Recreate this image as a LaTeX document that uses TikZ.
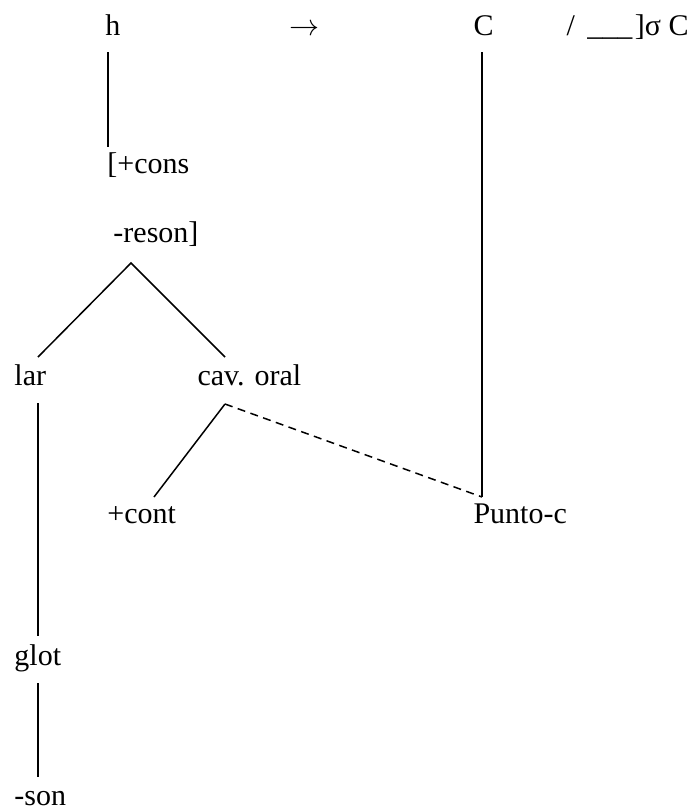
\documentclass[tikz,border=0pt]{standalone}
\usepackage{fontspec}
\setmainfont{Liberation Serif}
\usepackage{tikz}

\begin{document}
\begin{tikzpicture}[x=.4pt,y=-.4pt,
  feat/.style={anchor=base west,inner sep=0pt,font=\fontsize{12}{14}\selectfont},
  assoc/.style={line width=.6pt},
  delink/.style={line width=.6pt,dash pattern=on 3.2pt off 2.2pt}]
  \useasboundingbox (0,0) rectangle (698,808);

  \node[feat] at(105,35)(h){h};
  \node[feat] at(289,35)(arrow){$\rightarrow$};
  \node[feat] at(473,35)(C){C};
  \node[feat] at(566,35)(env){/\hspace{5pt}\_\_\_\hspace{1pt}]σ C};

  \node[feat] at(107,173)(cons){[+cons};
  \node[feat] at(113,242)(reson){-reson]};

  \node[feat] at(14,385)(lar){lar};
  \node[feat] at(197,385)(cav){cav. oral};

  \node[feat] at(107,523)(cont){+cont};
  \node[feat] at(473,523)(punto){Punto-c};

  \node[feat] at(14,665)(glot){glot};
  \node[feat] at(14,805)(son){-son};

  \draw [assoc]([shift={(3,17)}]h.base west) -- ([shift={(1,-26)}]cons.base west);
  \draw [assoc]([shift={(9,17)}]C.base west) -- ([shift={(9,-26)}]punto.base west);

  \draw [assoc]([shift={(24,-28)}]lar.base west) -- ([shift={(18,21)}]reson.base west)
    -- ([shift={(28,-28)}]cav.base west);

  \draw [assoc]([shift={(24,18)}]lar.base west) -- ([shift={(24,-29)}]glot.base west);
  \draw [assoc]([shift={(24,18)}]glot.base west) -- ([shift={(24,-28)}]son.base west);

  \draw [assoc]([shift={(28,19)}]cav.base west) -- ([shift={(47,-26)}]cont.base west);
  \draw [delink]([shift={(28,19)}]cav.base west) -- ([shift={(9,-26)}]punto.base west);
\end{tikzpicture}
\end{document}
